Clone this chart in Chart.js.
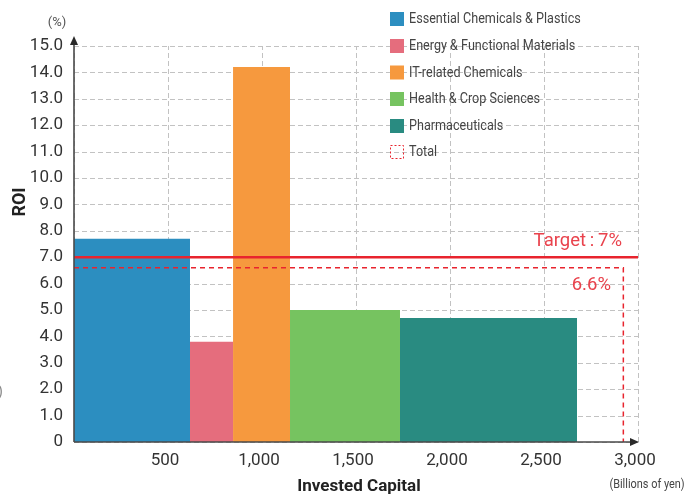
<!DOCTYPE html>
<html>
<head>
<meta charset="utf-8">
<script src="https://cdn.jsdelivr.net/npm/chart.js@4"></script>
<style>
  html, body { margin: 0; padding: 0; background: #fff; }
  #wrap { width: 700px; height: 495px; position: relative; }
</style>
</head>
<body>
<div id="wrap"><canvas id="roi"></canvas></div>
<script>
// Segments, their invested capital (billions of yen) and ROI (%)
const segments = [
  'Essential Chemicals & Plastics',
  'Energy & Functional Materials',
  'IT-related Chemicals',
  'Health & Crop Sciences',
  'Pharmaceuticals'
];
const investedCapital = [617, 229, 303, 585, 942];
const roiValues = [7.7, 3.8, 14.2, 5.0, 4.7];
const segmentColors = ['#2c8ec0', '#e56d7d', '#f6993e', '#76c360', '#298b81'];

const totalLabel = 'Total';
const totalCapital = 2922;
const totalRoi = 6.6;
const targetRoi = 7.0;

const yTicks = [0, 1, 2, 3, 4, 5, 6, 7, 8, 9, 10, 11, 12, 13, 14, 15];
const xTicks = [0, 500, 1000, 1500, 2000, 2500, 3000];

const RED = '#e8242e';
const RED_TEXT = '#e9424c';

// Each segment is a rectangle whose width is its invested capital
let start = 0;
const segmentDatasets = segments.map((name, i) => {
  const x0 = start;
  const x1 = start + investedCapital[i];
  start = x1;
  return {
    label: name,
    type: 'line',
    data: [{x: x0, y: 0}, {x: x0, y: roiValues[i]}, {x: x1, y: roiValues[i]}, {x: x1, y: 0}],
    backgroundColor: segmentColors[i],
    borderColor: segmentColors[i],
    borderWidth: 0,
    pointRadius: 0,
    fill: 'origin',
    tension: 0,
    order: 2
  };
});

const targetDataset = {
  label: 'Target',
  type: 'line',
  data: [{x: xTicks[0], y: targetRoi}, {x: xTicks[xTicks.length - 1], y: targetRoi}],
  borderColor: RED,
  borderWidth: 2.5,
  pointRadius: 0,
  fill: false,
  order: 0
};

const totalDataset = {
  label: totalLabel,
  type: 'line',
  data: [{x: 0, y: totalRoi}, {x: totalCapital, y: totalRoi}, {x: totalCapital, y: 0}],
  borderColor: RED,
  borderWidth: 1.5,
  borderDash: [5, 4],
  pointRadius: 0,
  fill: false,
  order: 1
};

// Dashed grid behind the segments
const dashedGrid = {
  id: 'dashedGrid',
  beforeDatasetsDraw(chart) {
    const ctx = chart.ctx;
    const ca = chart.chartArea;
    const xs = chart.scales.x, ys = chart.scales.y;
    ctx.save();
    ctx.strokeStyle = '#c2c2c2';
    ctx.lineWidth = 1;
    ctx.setLineDash([5, 3]);
    yTicks.forEach(v => {
      const y = Math.round(ys.getPixelForValue(v)) + 0.5;
      ctx.beginPath();
      ctx.moveTo(ca.left, y);
      ctx.lineTo(ca.right, y);
      ctx.stroke();
    });
    xTicks.forEach(v => {
      const x = Math.round(xs.getPixelForValue(v)) + 0.5;
      ctx.beginPath();
      ctx.moveTo(x, ca.bottom);
      ctx.lineTo(x, ca.top);
      ctx.stroke();
    });
    ctx.restore();
  }
};

// Axes with arrow heads, titles, annotations and the legend block
const decorations = {
  id: 'decorations',
  afterDatasetsDraw(chart) {
    const ctx = chart.ctx;
    const ca = chart.chartArea;
    const xs = chart.scales.x, ys = chart.scales.y;
    ctx.save();

    // axis lines
    ctx.strokeStyle = '#4a4a4a';
    ctx.fillStyle = '#2a2a2a';
    ctx.lineWidth = 1.6;
    ctx.beginPath();
    ctx.moveTo(ca.left, ca.bottom);
    ctx.lineTo(ca.left, ca.top - 4);
    ctx.moveTo(ca.left, ca.bottom);
    ctx.lineTo(ca.right - 2, ca.bottom);
    ctx.stroke();
    // arrow heads
    ctx.beginPath();
    ctx.moveTo(ca.left, ca.top - 10);
    ctx.lineTo(ca.left - 4, ca.top - 1);
    ctx.lineTo(ca.left + 4, ca.top - 1);
    ctx.closePath();
    ctx.fill();
    ctx.beginPath();
    ctx.moveTo(ca.right + 1, ca.bottom);
    ctx.lineTo(ca.right - 8, ca.bottom - 4);
    ctx.lineTo(ca.right - 8, ca.bottom + 4);
    ctx.closePath();
    ctx.fill();

    // value annotations
    ctx.fillStyle = RED_TEXT;
    ctx.font = '18.5px Roboto, sans-serif';
    ctx.textAlign = 'right';
    ctx.textBaseline = 'middle';
    ctx.fillText('Target\u2009:\u2009' + targetRoi.toFixed(0) + '%', xs.getPixelForValue(2915), ys.getPixelForValue(targetRoi) - 16);
    ctx.fillText(totalRoi.toFixed(1) + '%', xs.getPixelForValue(2856), ys.getPixelForValue(totalRoi) + 18);

    // unit and axis titles
    ctx.fillStyle = '#555';
    ctx.textAlign = 'center';
    ctx.font = '13px Roboto, sans-serif';
    ctx.fillText('(%)', 57, 23);

    ctx.fillStyle = '#222';
    ctx.font = 'bold 18px Roboto, sans-serif';
    ctx.save();
    ctx.translate(20, 202);
    ctx.rotate(-Math.PI / 2);
    ctx.fillText('ROI', 0, 0);
    ctx.restore();

    ctx.font = 'bold 17px Roboto, sans-serif';
    ctx.fillText('Invested Capital', 359, 487);

    ctx.fillStyle = '#444';
    ctx.save();
    ctx.translate(647, 485);
    ctx.scale(0.84, 1);
    ctx.font = '13px Roboto, sans-serif';
    ctx.fillText('(Billions of yen)', 0, 0);
    ctx.restore();

    ctx.fillStyle = '#888';
    ctx.textAlign = 'left';
    ctx.font = '14px Roboto, sans-serif';
    ctx.fillText(')', -2, 392);

    // legend
    const rowsY = [19, 46, 72.5, 99, 126, 152];
    const items = segments.map((s, i) => ({text: s, color: segmentColors[i]}));
    items.push({text: totalLabel, color: null});
    items.forEach((it, i) => {
      const y = rowsY[i];
      if (it.color) {
        ctx.fillStyle = it.color;
        ctx.fillRect(390, y - 7, 14, 14);
      } else {
        ctx.strokeStyle = RED;
        ctx.lineWidth = 1;
        ctx.setLineDash([2, 2]);
        ctx.strokeRect(390.5, y - 6.5, 13, 13);
        ctx.setLineDash([]);
      }
      ctx.save();
      ctx.translate(409, y + 0.5);
      ctx.scale(0.84, 1);
      ctx.fillStyle = '#444';
      ctx.font = '15px Roboto, sans-serif';
      ctx.textAlign = 'left';
      ctx.textBaseline = 'middle';
      ctx.fillText(it.text, 0, 0);
      ctx.restore();
    });

    ctx.restore();
  }
};

new Chart(document.getElementById('roi'), {
  type: 'line',
  data: { datasets: [targetDataset, totalDataset, ...segmentDatasets] },
  options: {
    responsive: true,
    maintainAspectRatio: false,
    animation: false,
    layout: { padding: { top: 46, right: 62, left: 0, bottom: 0 } },
    plugins: { legend: { display: false }, tooltip: { enabled: false } },
    elements: { line: { borderCapStyle: 'butt' } },
    scales: {
      x: {
        type: 'linear',
        min: xTicks[0],
        max: xTicks[xTicks.length - 1],
        afterBuildTicks(scale) { scale.ticks = xTicks.map(v => ({value: v})); },
        afterFit(scale) { scale.height = 53; },
        grid: { display: false, drawTicks: false },
        border: { display: false },
        ticks: {
          padding: 9,
          labelOffset: -3,
          color: '#333',
          font: { family: 'Roboto', size: 17 },
          maxRotation: 0,
          autoSkip: false,
          callback: v => v === 0 ? '' : v.toLocaleString('en-US')
        }
      },
      y: {
        type: 'linear',
        min: yTicks[0],
        max: yTicks[yTicks.length - 1],
        afterBuildTicks(scale) { scale.ticks = yTicks.map(v => ({value: v})); },
        afterFit(scale) { scale.width = 74; },
        grid: { display: false, drawTicks: false },
        border: { display: false },
        ticks: {
          padding: 11,
          color: '#333',
          font: { family: 'Roboto', size: 17 },
          autoSkip: false,
          callback: v => v === 0 ? '0' : v.toFixed(1)
        }
      }
    }
  },
  plugins: [dashedGrid, decorations]
});
</script>
</body>
</html>
